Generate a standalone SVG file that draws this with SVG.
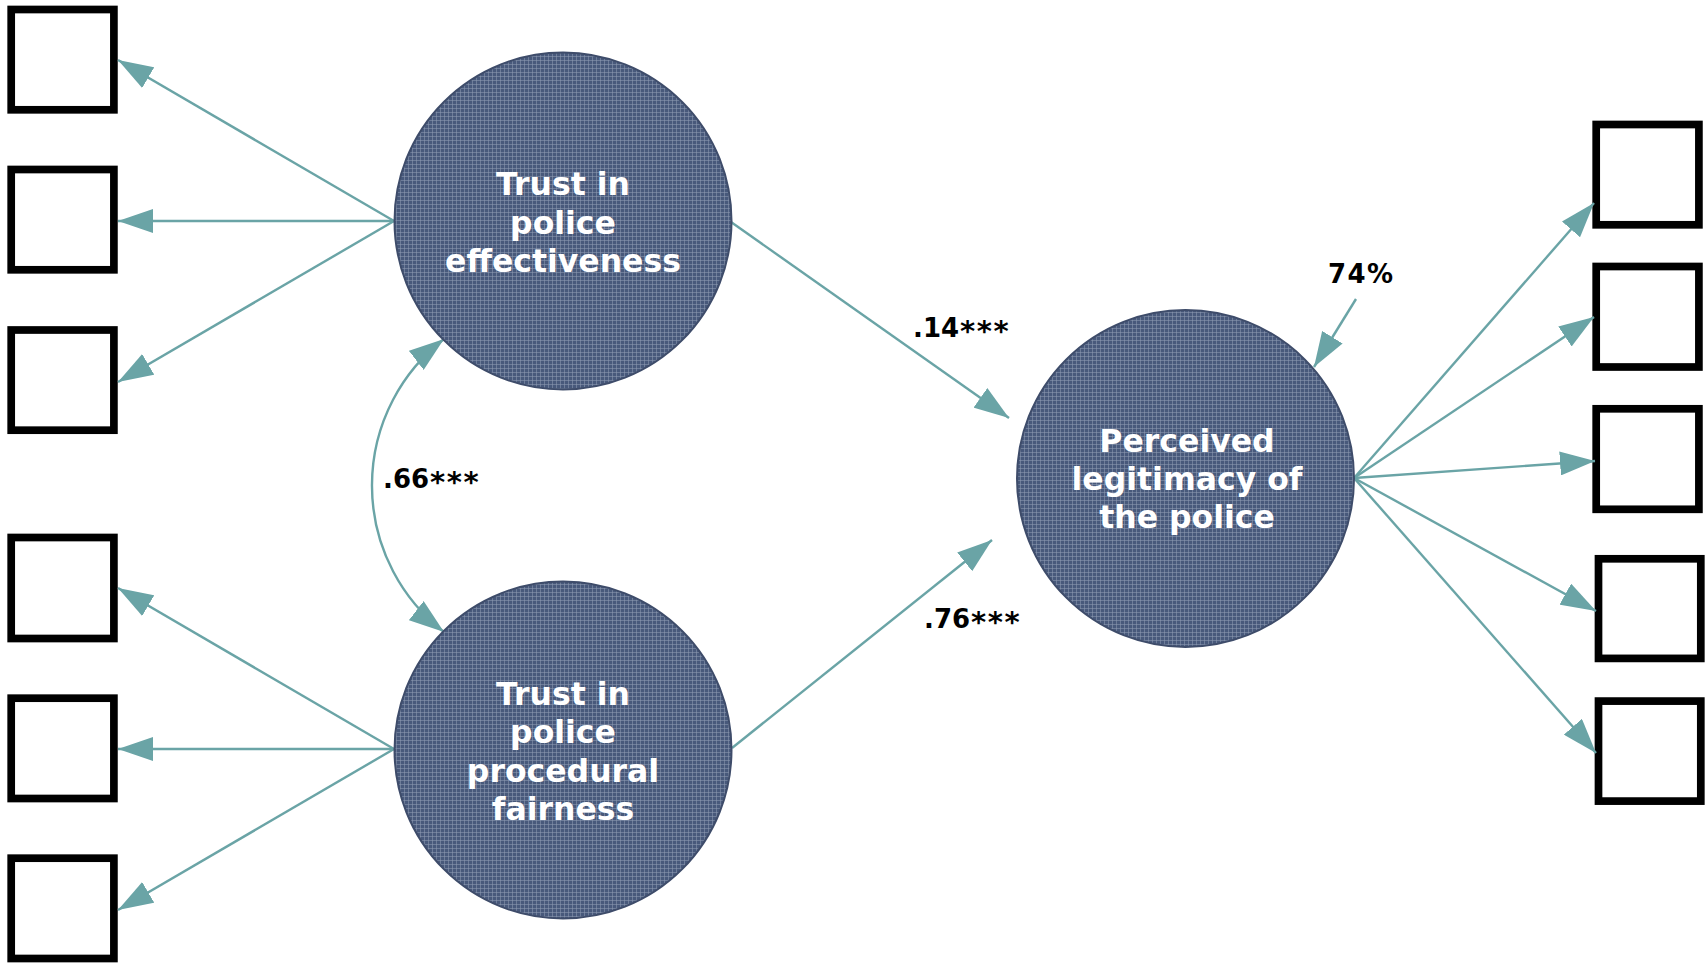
<svg xmlns="http://www.w3.org/2000/svg" width="1708" height="969" viewBox="0 0 1708 969">
<style>
.box{fill:#fff;stroke:#000;stroke-width:7.7}
.lat{fill:url(#grid);stroke:#3e4c6a;stroke-width:2}
.edge{fill:none;stroke:#6aa4a6;stroke-width:2.4;marker-end:url(#ah)}
.ltxt{font-family:"DejaVu Sans",Verdana,sans-serif;font-weight:bold;font-size:31.5px;fill:#fff;text-anchor:middle}
.coef{font-family:"DejaVu Sans",Verdana,sans-serif;font-weight:bold;font-size:26px;fill:#000}
.st{font-size:29px;letter-spacing:1.5px}
</style>
<defs>
<pattern id="grid" width="4" height="4" patternUnits="userSpaceOnUse">
<rect width="4" height="4" fill="#48597b"/>
<path d="M0,0.5H4M0.5,0V4" stroke="#8d9bb3" stroke-opacity="0.55" stroke-width="1"/>
</pattern>
<marker id="ah" viewBox="0 0 35 24" markerWidth="35" markerHeight="24" refX="35" refY="12" orient="auto-start-reverse" markerUnits="userSpaceOnUse">
<path d="M0,0L35,12L0,24z" fill="#6aa4a6"/>
</marker>
</defs>
<rect width="1708" height="969" fill="#fff"/>
<g id="indicators-left">
<rect id="x1" class="box" x="11.2" y="9.5" width="102.7" height="100.3"/>
<rect id="x2" class="box" x="11.2" y="169.5" width="102.7" height="100.3"/>
<rect id="x3" class="box" x="11.2" y="330" width="102.7" height="100.2"/>
<rect id="x4" class="box" x="11.2" y="537.5" width="102.7" height="101"/>
<rect id="x5" class="box" x="11.2" y="698.2" width="102.7" height="100.3"/>
<rect id="x6" class="box" x="11.2" y="858.2" width="102.7" height="100.3"/>
</g>
<g id="indicators-right">
<rect id="y1" class="box" x="1596.2" y="124.5" width="102.7" height="100.3"/>
<rect id="y2" class="box" x="1596.2" y="266.5" width="102.7" height="100.5"/>
<rect id="y3" class="box" x="1596.2" y="408.8" width="102.7" height="100.5"/>
<rect id="y4" class="box" x="1598.5" y="558.8" width="102.3" height="99.6"/>
<rect id="y5" class="box" x="1598.5" y="701.1" width="102.3" height="100"/>
</g>
<g id="connectors">
<path class="edge" d="M394,221L118,60"/>
<path class="edge" d="M394,221L118,221"/>
<path class="edge" d="M394,221L118,382"/>
<path class="edge" d="M394,749L118,588"/>
<path class="edge" d="M394,749L118,749"/>
<path class="edge" d="M394,749L118,910"/>
<path class="edge" d="M731,222L1009,418"/>
<path class="edge" d="M732,748L992,540"/>
<path class="edge" d="M1356,299L1314,367"/>
<path class="edge" d="M1354,478L1594,203"/>
<path class="edge" d="M1354,478L1594,317"/>
<path class="edge" d="M1354,478L1595,461"/>
<path class="edge" d="M1354,478L1596,611"/>
<path class="edge" d="M1354,478L1596,753"/>
<path class="edge" style="marker-start:url(#ah)" d="M444,339A185,185 0 0,0 444,632"/>
</g>
<g id="effectiveness">
<circle class="lat" cx="563" cy="221" r="168.5"/>
<text class="ltxt" x="563" y="195">Trust in</text>
<text class="ltxt" x="563" y="233.5">police</text>
<text class="ltxt" x="563" y="272">effectiveness</text>
</g>
<g id="fairness">
<circle class="lat" cx="563" cy="750" r="168.5"/>
<text class="ltxt" x="563" y="705">Trust in</text>
<text class="ltxt" x="563" y="743.3">police</text>
<text class="ltxt" x="563" y="781.7">procedural</text>
<text class="ltxt" x="563" y="819.5">fairness</text>
</g>
<g id="legitimacy">
<circle class="lat" cx="1185.5" cy="478.5" r="168.5"/>
<text class="ltxt" x="1187" y="451.7">Perceived</text>
<text class="ltxt" x="1187" y="490">legitimacy of</text>
<text class="ltxt" x="1187" y="527.5">the police</text>
</g>
<g id="labels">
<text class="coef" x="913" y="337">.14<tspan class="st" dx="1" dy="4">***</tspan></text>
<text class="coef" x="383" y="488">.66<tspan class="st" dx="1" dy="4">***</tspan></text>
<text class="coef" x="924" y="628">.76<tspan class="st" dx="1" dy="4">***</tspan></text>
<text class="coef" x="1328" y="283" textLength="65" lengthAdjust="spacing">74%</text>
</g>
</svg>
